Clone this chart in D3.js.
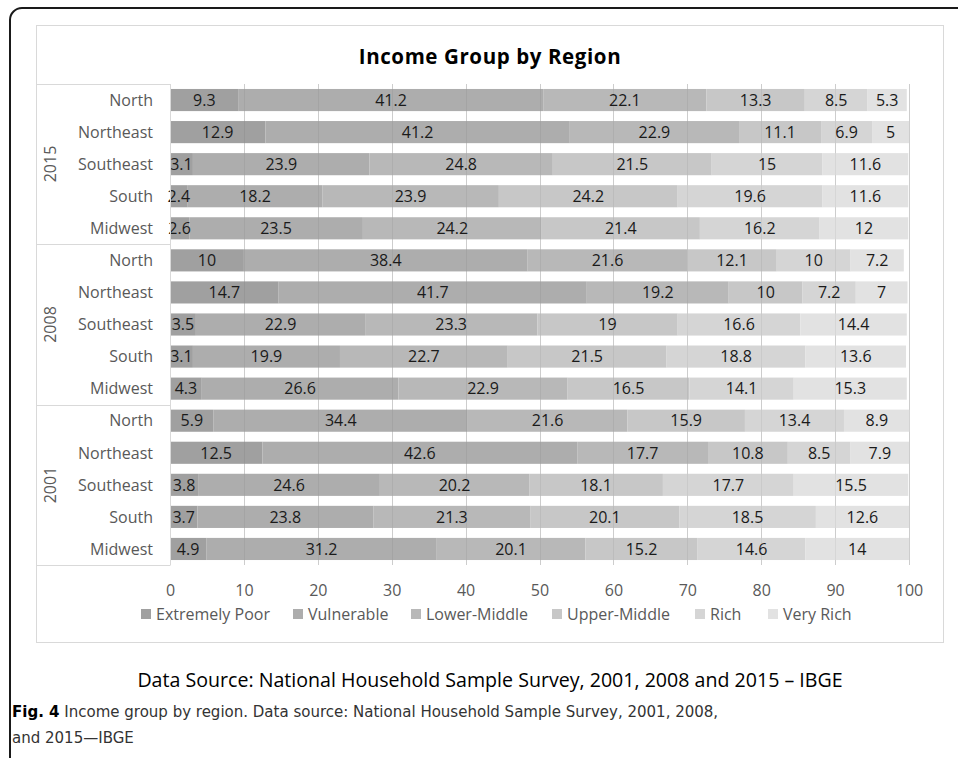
<!DOCTYPE html>
<html>
<head>
<meta charset="utf-8">
<script src="https://cdn.jsdelivr.net/npm/d3@7"></script>
<style>
  html, body { margin: 0; padding: 0; background: #fff; }
  svg { display: block; }
</style>
</head>
<body>
<svg id="chart" width="958" height="758"></svg>
<script>
// Income groups (stack order, left to right)
const groups = ["Extremely Poor", "Vulnerable", "Lower-Middle", "Upper-Middle", "Rich", "Very Rich"];
const groupColors = ["#a0a0a0", "#adadad", "#b8b8b8", "#c7c7c7", "#d5d5d5", "#e2e2e2"];
const years = ["2015", "2008", "2001"];
const regions = ["North", "Northeast", "Southeast", "South", "Midwest"];
const xTicks = [0, 10, 20, 30, 40, 50, 60, 70, 80, 90, 100];

// Share of population (%) in each income group, per year and region
const values2015 = [
  [9.3, 41.2, 22.1, 13.3, 8.5, 5.3],
  [12.9, 41.2, 22.9, 11.1, 6.9, 5],
  [3.1, 23.9, 24.8, 21.5, 15, 11.6],
  [2.4, 18.2, 23.9, 24.2, 19.6, 11.6],
  [2.6, 23.5, 24.2, 21.4, 16.2, 12]
];
const values2008 = [
  [10, 38.4, 21.6, 12.1, 10, 7.2],
  [14.7, 41.7, 19.2, 10, 7.2, 7],
  [3.5, 22.9, 23.3, 19, 16.6, 14.4],
  [3.1, 19.9, 22.7, 21.5, 18.8, 13.6],
  [4.3, 26.6, 22.9, 16.5, 14.1, 15.3]
];
const values2001 = [
  [5.9, 34.4, 21.6, 15.9, 13.4, 8.9],
  [12.5, 42.6, 17.7, 10.8, 8.5, 7.9],
  [3.8, 24.6, 20.2, 18.1, 17.7, 15.5],
  [3.7, 23.8, 21.3, 20.1, 18.5, 12.6],
  [4.9, 31.2, 20.1, 15.2, 14.6, 14]
];

const title = "Income Group by Region";
const sourceNote = "Data Source: National Household Sample Survey, 2001, 2008 and 2015 \u2013 IBGE";
const figLabel = "Fig. 4";
const figCaption1 = " Income group by region. Data source: National Household Sample Survey, 2001, 2008,";
const figCaption2 = "and 2015\u2014IBGE";

// Build one row per (year, region)
const yearValues = { "2015": values2015, "2008": values2008, "2001": values2001 };
const rows = [];
years.forEach(y => regions.forEach((r, i) => {
  const row = { key: y + "|" + r, year: y, region: r };
  groups.forEach((g, j) => row[g] = yearValues[y][i][j]);
  rows.push(row);
}));

const svg = d3.select("#chart");
const font = "'Open Sans', Lato, sans-serif";
const textGray = "#595959";
const fs = 16;

// Page frame
svg.append("rect")
  .attr("x", 10).attr("y", 8)
  .attr("width", 1000).attr("height", 800)
  .attr("rx", 12)
  .attr("fill", "none").attr("stroke", "#1a1a1a").attr("stroke-width", 2);

// Chart area border
svg.append("rect")
  .attr("x", 36.5).attr("y", 25.5)
  .attr("width", 907).attr("height", 617)
  .attr("fill", "#fff").attr("stroke", "#d9d9d9").attr("stroke-width", 1);

svg.append("text")
  .attr("x", 490).attr("y", 64)
  .attr("text-anchor", "middle")
  .attr("font-family", font).attr("font-weight", "bold")
  .attr("font-size", 20.5).attr("fill", "#000")
  .attr("letter-spacing", 0.6)
  .text(title);

const plot = { left: 170, right: 909, top: 84, bottom: 565 };

const x = d3.scaleLinear().domain([0, 100]).range([plot.left, plot.right]);
const y = d3.scaleBand()
  .domain(rows.map(d => d.key))
  .range([plot.top, plot.bottom])
  .paddingInner(0.31).paddingOuter(0.155);

// Vertical gridlines
const grid = svg.append("g");
grid.selectAll("line").data(xTicks.slice(1)).join("line")
  .attr("x1", d => Math.round(x(d)) + 0.5).attr("x2", d => Math.round(x(d)) + 0.5)
  .attr("y1", plot.top).attr("y2", plot.bottom)
  .attr("stroke", "#d9d9d9");

// Stacked bars
const stack = d3.stack().keys(groups);
const series = stack(rows);

const bars = svg.append("g");
series.forEach((s, si) => {
  bars.append("g").attr("fill", groupColors[si])
    .selectAll("rect").data(s).join("rect")
    .attr("x", d => x(d[0]))
    .attr("y", d => y(d.data.key))
    .attr("width", d => x(d[1]) - x(d[0]))
    .attr("height", y.bandwidth());
});

// Gridlines show faintly through the bars
svg.append("g").selectAll("line").data(xTicks.slice(1)).join("line")
  .attr("x1", d => Math.round(x(d)) + 0.5).attr("x2", d => Math.round(x(d)) + 0.5)
  .attr("y1", plot.top).attr("y2", plot.bottom)
  .attr("stroke", "#000").attr("stroke-opacity", 0.05);

// Segment value labels
const labels = svg.append("g")
  .attr("font-family", font).attr("font-size", fs).attr("fill", "#1a1a1a")
  .attr("text-anchor", "middle");
series.forEach(s => {
  labels.append("g").selectAll("text").data(s).join("text")
    .attr("x", d => (x(d[0]) + x(d[1])) / 2)
    .attr("y", d => y(d.data.key) + y.bandwidth() / 2)
    .attr("dy", "0.36em")
    .text(d => d.data[s.key]);
});

// Category axis box: region names and year groups
const box = svg.append("g").attr("stroke", "#d9d9d9").attr("fill", "none");
const groupEdges = [plot.top].concat(years.map(yr => {
  const last = y(yr + "|" + regions[regions.length - 1]) + y.bandwidth() + y.step() * y.paddingInner() / 2;
  return Math.min(Math.round(last), plot.bottom);
}));
box.selectAll("line.h").data(groupEdges).join("line")
  .attr("x1", 36).attr("x2", plot.left)
  .attr("y1", d => Math.round(d) + 0.5).attr("y2", d => Math.round(d) + 0.5);
box.append("line")
  .attr("x1", plot.left + 0.5).attr("x2", plot.left + 0.5)
  .attr("y1", plot.top).attr("y2", plot.bottom + 0.5);

svg.append("g")
  .attr("font-family", font).attr("font-size", fs).attr("fill", textGray)
  .attr("text-anchor", "end")
  .selectAll("text").data(rows).join("text")
  .attr("x", 153)
  .attr("y", d => y(d.key) + y.bandwidth() / 2)
  .attr("dy", "0.36em")
  .text(d => d.region);

svg.append("g")
  .attr("font-family", font).attr("font-size", fs).attr("fill", textGray)
  .attr("text-anchor", "middle")
  .selectAll("text").data(years).join("text")
  .attr("transform", (d, i) => {
    const cy = (groupEdges[i] + groupEdges[i + 1]) / 2;
    return `translate(56,${cy}) rotate(-90)`;
  })
  .text(d => d);

// Value axis
const xAxis = d3.axisBottom(x).tickValues(xTicks).tickSize(0).tickPadding(0);
const ax = svg.append("g").attr("transform", `translate(0,${plot.bottom})`).call(xAxis);
ax.select(".domain").remove();
ax.selectAll("text")
  .attr("y", 31)
  .attr("dy", 0)
  .attr("font-family", font).attr("font-size", fs).attr("fill", textGray);

// Legend
const legendX = [141, 293, 411, 552, 695, 768];
const legend = svg.append("g").selectAll("g").data(groups).join("g")
  .attr("transform", (d, i) => `translate(${legendX[i]},609)`);
legend.append("rect")
  .attr("width", 10).attr("height", 10)
  .attr("fill", (d, i) => groupColors[i]);
legend.append("text")
  .attr("x", 15).attr("y", 5).attr("dy", "0.36em")
  .attr("font-family", font).attr("font-size", fs).attr("fill", textGray)
  .text(d => d);

// Source note
svg.append("text")
  .attr("x", 490).attr("y", 687)
  .attr("text-anchor", "middle")
  .attr("font-family", font).attr("font-size", 19.6).attr("fill", "#000")
  .text(sourceNote);

// Figure caption
const cap = svg.append("g")
  .attr("font-family", "'Liberation Sans Narrow', 'DejaVu Sans Condensed', sans-serif")
  .attr("font-size", 16.7).attr("fill", "#333");
const line1 = cap.append("text").attr("x", 12).attr("y", 717);
line1.append("tspan").attr("font-weight", "bold").attr("fill", "#000").text(figLabel);
line1.append("tspan").text(figCaption1);
cap.append("text").attr("x", 12).attr("y", 743).text(figCaption2);
</script>
</body>
</html>
